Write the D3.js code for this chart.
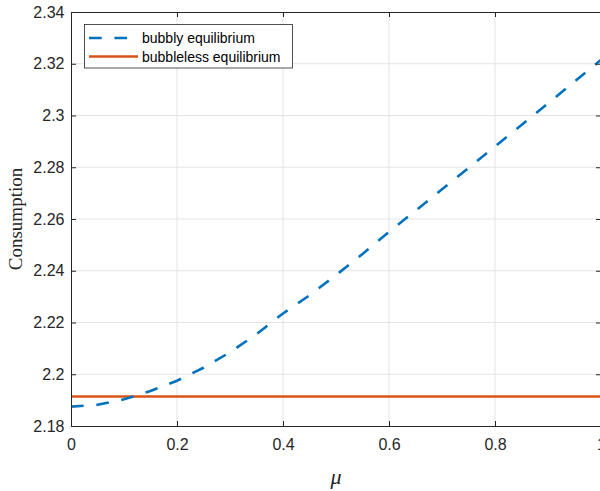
<!DOCTYPE html>
<html>
<head>
<meta charset="utf-8">
<script src="https://cdn.jsdelivr.net/npm/d3@7"></script>
<style>
	html, body { margin: 0; padding: 0; background: #fff; }
	svg { display: block; }
</style>
</head>
<body>
<svg id="chart" width="600" height="491"></svg>
<script>
// values
const mu = [0, 0.05, 0.1, 0.15, 0.2, 0.25, 0.3, 0.35, 0.4, 0.45, 0.5,
	0.55, 0.6, 0.65, 0.7, 0.75, 0.8, 0.85, 0.9, 0.95, 1.0];
const bubbly = [2.1875, 2.1882, 2.1903, 2.1935, 2.1975, 2.2025, 2.2085, 2.2155, 2.2235, 2.2305, 2.2383,
	2.2465, 2.2550, 2.2632, 2.2715, 2.2797, 2.2880, 2.2963, 2.3047, 2.3131, 2.3215];
const bubbleless = 2.1914;
const xTicks = [0, 0.2, 0.4, 0.6, 0.8, 1];
const yTicks = [2.18, 2.2, 2.22, 2.24, 2.26, 2.28, 2.3, 2.32, 2.34];
const legendLabels = ['bubbly equilibrium', 'bubbleless equilibrium'];

const blue = '#0072BD';
const orange = '#D95319';
const axisColor = '#262626';

const svg = d3.select('#chart');

// plot box in pixels
const plotL = 71, plotR = 601, plotT = 12, plotB = 426;
const x = d3.scaleLinear().domain([0, 1]).range([plotL, plotR]);
const y = d3.scaleLinear().domain([2.18, 2.34]).range([plotB, plotT]);

// grid
const grid = svg.append('g');
grid.selectAll('.gx').data(xTicks.slice(1, -1)).join('line')
	.attr('x1', d => x(d)).attr('x2', d => x(d))
	.attr('y1', plotT).attr('y2', plotB)
	.attr('stroke', '#e3e3e3').attr('stroke-width', 1);
grid.selectAll('.gy').data(yTicks.slice(1, -1)).join('line')
	.attr('x1', plotL).attr('x2', plotR)
	.attr('y1', d => y(d)).attr('y2', d => y(d))
	.attr('stroke', '#e3e3e3').attr('stroke-width', 1);

// data lines
const line = d3.line().x((d, i) => x(mu[i])).y(d => y(d));

svg.append('line')
	.attr('x1', x(0)).attr('x2', x(1))
	.attr('y1', y(bubbleless)).attr('y2', y(bubbleless))
	.attr('stroke', orange).attr('stroke-width', 2.6);

svg.append('path')
	.datum(bubbly)
	.attr('d', line)
	.attr('fill', 'none')
	.attr('stroke', blue)
	.attr('stroke-width', 2.6)
	.attr('stroke-dasharray', '12.7,12.7');

// axes (ticks point inward, box on)
function styleAxis(g) {
	g.select('.domain').attr('stroke', axisColor).attr('stroke-width', 1);
	g.selectAll('.tick line').attr('stroke', axisColor);
	g.selectAll('.tick text')
		.attr('fill', axisColor)
		.style('font-family', '"Liberation Sans", Arial, sans-serif')
		.style('font-size', '16px');
}

svg.append('g')
	.attr('transform', `translate(0,${plotB})`)
	.call(d3.axisBottom(x).tickValues(xTicks).tickFormat(d3.format('')).tickSizeInner(-5).tickSizeOuter(0).tickPadding(13))
	.call(styleAxis);

svg.append('g')
	.attr('transform', `translate(${plotL},0)`)
	.call(d3.axisLeft(y).tickValues(yTicks).tickFormat(d => d3.format('')(+d.toFixed(2))).tickSizeInner(-5).tickSizeOuter(0).tickPadding(6.5))
	.call(styleAxis);

svg.append('g')
	.attr('transform', `translate(0,${plotT})`)
	.call(d3.axisTop(x).tickValues(xTicks).tickFormat('').tickSizeInner(-5).tickSizeOuter(0))
	.call(styleAxis);

svg.append('g')
	.attr('transform', `translate(${plotR},0)`)
	.call(d3.axisRight(y).tickValues(yTicks).tickFormat('').tickSizeInner(-5).tickSizeOuter(0))
	.call(styleAxis);

// axis labels
svg.append('text')
	.attr('transform', `translate(22,${(plotT + plotB) / 2}) rotate(-90)`)
	.attr('text-anchor', 'middle')
	.style('font-family', '"Liberation Serif", "Times New Roman", serif')
	.style('font-size', '19px')
	.attr('fill', axisColor)
	.text('Consumption');

svg.append('text')
	.attr('x', (plotL + plotR) / 2)
	.attr('y', 484)
	.attr('text-anchor', 'middle')
	.style('font-family', '"Liberation Serif", "Times New Roman", serif')
	.style('font-style', 'italic')
	.style('font-size', '22px')
	.attr('fill', axisColor)
	.text('μ');

// legend
const legend = svg.append('g');
legend.append('rect')
	.attr('x', 84.5).attr('y', 24.5)
	.attr('width', 208).attr('height', 43.5)
	.attr('fill', '#fff')
	.attr('stroke', axisColor).attr('stroke-width', 0.8);

const rows = legend.selectAll('.row').data(legendLabels).join('g')
	.attr('transform', (d, i) => `translate(0,${38 + i * 18.5})`);
rows.append('line')
	.attr('x1', 89).attr('x2', 138)
	.attr('stroke', (d, i) => i === 0 ? blue : orange)
	.attr('stroke-width', 2.6)
	.attr('stroke-dasharray', (d, i) => i === 0 ? '12.7,12.7' : null);
rows.append('text')
	.attr('x', 142).attr('y', 5)
	.style('font-family', '"Liberation Sans", Arial, sans-serif')
	.style('font-size', '14px')
	.attr('fill', '#000')
	.text(d => d);
</script>
</body>
</html>
